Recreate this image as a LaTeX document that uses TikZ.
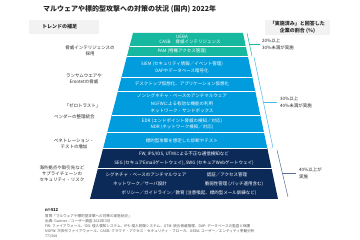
\documentclass[tikz,border=0pt]{standalone}
\usepackage{fontspec}
\setmainfont{Noto Sans CJK JP}
\usetikzlibrary{calc}
\definecolor{tealband}{RGB}{22,184,160}
\definecolor{blueband}{RGB}{0,156,222}
\definecolor{navyband}{RGB}{12,42,88}
\definecolor{hdrgray}{RGB}{242,242,242}
\definecolor{notegray}{RGB}{90,90,90}
\definecolor{txtdark}{RGB}{40,40,40}
\definecolor{navyline}{RGB}{90,110,150}
\begin{document}
\begin{tikzpicture}[x=1pt,y=-1pt,
  bandtxt/.style={text=white,font=\fontsize{4.5}{5.6}\selectfont,inner sep=0pt,align=center},
  lefttxt/.style={text=txtdark,font=\fontsize{4.5}{6}\selectfont,inner sep=0pt,align=center},
  righttxt/.style={text=txtdark,font=\fontsize{4.5}{6.5}\selectfont,inner sep=0pt,align=left,anchor=west},
  hdrtxt/.style={text=txtdark,font=\bfseries\fontsize{5}{6.6}\selectfont,inner sep=0pt},
  notetxt/.style={text=notegray,font=\fontsize{3.6}{4}\selectfont,inner sep=0pt,anchor=west},
  divider/.style={draw=white,line width=0.35pt},
  bracket/.style={line width=0.5pt}]
\useasboundingbox (0,0) rectangle (360,240);
\fill[white] (0,0) rectangle (360,240);

% title
\node[anchor=west,inner sep=0pt,font=\bfseries\fontsize{7}{8}\selectfont,text=txtdark] (title) at (43,9) {マルウェアや標的型攻撃への対策の状況 (国内) 2022年};

% header boxes
\fill[hdrgray] (29,20) rectangle (99,34);
\node[hdrtxt,anchor=west] (hdrL) at (42,27) {トレンドの補足};
\fill[hdrgray] (265,20) rectangle (330,35);
\node[hdrtxt,align=center] (hdrR) at (297.5,27.5) {「実施済み」と回答した\\企業の割合 (\%)};

% pyramid
\coordinate (TL) at (133,33);
\coordinate (TR) at (243,33);
\coordinate (BL) at (90,199);
\coordinate (BR) at (278,199);
\fill[tealband] (TL) -- (TR) -- ($(TR)!0.1416!(BR)$) -- ($(TL)!0.1416!(BL)$) -- cycle;
\fill[blueband] ($(TL)!0.1416!(BL)$) -- ($(TR)!0.1416!(BR)$) -- ($(TR)!0.6928!(BR)$) -- ($(TL)!0.6928!(BL)$) -- cycle;
\fill[navyband] ($(TL)!0.6928!(BL)$) -- ($(TR)!0.6928!(BR)$) -- (BR) -- (BL) -- cycle;
\foreach \t in {0.0783,0.1416,0.2651,0.3494,0.494,0.5964,0.6928,0.8163}
  \draw[divider] ($(TL)!\t!(BL)$) -- ($(TR)!\t!(BR)$);

% band texts
\node[bandtxt] (ueba) at (182,36.5) {UEBA};
\node[bandtxt] (casb) at (190,42) {CASB\hspace{5pt}脅威インテリジェンス};
\node[bandtxt] (pam) at (182,51) {PAM (特権アクセス管理)};
\node[bandtxt] (siem) at (182,64) {SIEM (セキュリティ情報／イベント管理)};
\node[bandtxt] (dap) at (182,71) {DAPやデータベース暗号化};
\node[bandtxt] (vdi) at (182,84) {デスクトップ仮想化、アプリケーション仮想化};
\node[bandtxt] (nsig) at (182,96) {ノンシグネチャ・ベースのアンチマルウェア};
\node[bandtxt] (ngfw) at (182,103.5) {NGFWによる有効な機能の利用};
\node[bandtxt] (sand) at (182,111) {ネットワーク・サンドボックス};
\node[bandtxt] (edr) at (182,121.5) {EDR (エンドポイント脅威の検知／対応)};
\node[bandtxt] (ndr) at (182,127.5) {NDR (ネットワーク検知／対応)};
\node[bandtxt] (pent) at (182,140.5) {標的型攻撃を想定した診断やテスト};
\node[bandtxt] (fw) at (184,154) {FW, IPS/IDS, UTMによる不正な通信検知など};
\node[bandtxt] (seg) at (184,163) {SEG (セキュアEmailゲートウェイ), SWG (セキュアWebゲートウェイ)};
\node[bandtxt] (sig) at (146,175) {シグネチャ・ベースのアンチマルウェア};
\node[bandtxt] (auth) at (227,175) {認証／アクセス管理};
\node[bandtxt] (net) at (140,184) {ネットワーク／サーバ設計};
\node[bandtxt] (vuln) at (234,184) {脆弱性管理 (パッチ適用含む)};
\node[bandtxt] (pol) at (189,193) {ポリシー／ガイドライン／教育 (注意喚起、標的型メール訓練など)};

% left trend labels
\node[lefttxt] (l1) at (90,50.5) {脅威インテリジェンスの\\採用};
\node[lefttxt] (l2) at (84,79) {ランサムウエアや\\Emotetの脅威};
\node[lefttxt] (l3) at (82.5,106) {「ゼロトラスト」};
\node[lefttxt] (l4) at (74.5,117) {ベンダーの整理統合};
\node[lefttxt] (l5) at (74,144) {ペネトレーション・\\テストの増加};
\node[lefttxt] (l6) at (62,174) {海外拠点や取引先など\\サプライチェーンの\\セキュリティ・リスク};

% right brackets
\coordinate (gA) at (247,33); \coordinate (gB) at (252,56);
\coordinate (gT) at (260,44.5);
\draw[bracket,draw=tealband] (gA) -- (gB);
\draw[bracket,draw=tealband] ($(gA)!0.5!(gB)$) -- (gT);
\node[righttxt] (r1) at (262,44.5) {20\%以上\\30\%未満が実施};

\coordinate (bA) at (254,57); \coordinate (bB) at (273,148);
\coordinate (bT) at (277,102.5);
\draw[bracket,draw=blueband!70] (bA) -- (bB);
\draw[bracket,draw=blueband!70] ($(bA)!0.5!(bB)$) -- (bT);
\node[righttxt] (r2) at (280,102.5) {30\%以上\\40\%未満が実施};

\coordinate (nA) at (277,150); \coordinate (nB) at (288,197);
\coordinate (nT) at (296,173.5);
\draw[bracket,draw=navyline] (nA) -- (nB);
\draw[bracket,draw=navyline] ($(nA)!0.5!(nB)$) -- (nT);
\node[righttxt] (r3) at (299,173.5) {40\%以上が\\実施};

% notes
\node[notetxt,text=txtdark,font=\bfseries\fontsize{4.2}{5}\selectfont] (n0) at (45,210) {n=412};
\node[notetxt] (n1) at (45,216) {質問「マルウェアや標的型攻撃への対策の実施状況」};
\node[notetxt] (n2) at (45,221) {出典: Gartner／ユーザー調査 2022年3月};
\node[notetxt] (n3) at (45,226) {FW: ファイアウォール、IDS: 侵入検知システム、IPS: 侵入防御システム、UTM: 統合脅威管理、DAP: データベースの監査と保護};
\node[notetxt] (n4) at (45,231) {NGFW: 次世代ファイアウォール、CASB: クラウド・アクセス・セキュリティ・ブローカ、UEBA: ユーザー／エンティティ挙動分析};
\node[notetxt] (n5) at (45,236) {771344};
\end{tikzpicture}
\end{document}
